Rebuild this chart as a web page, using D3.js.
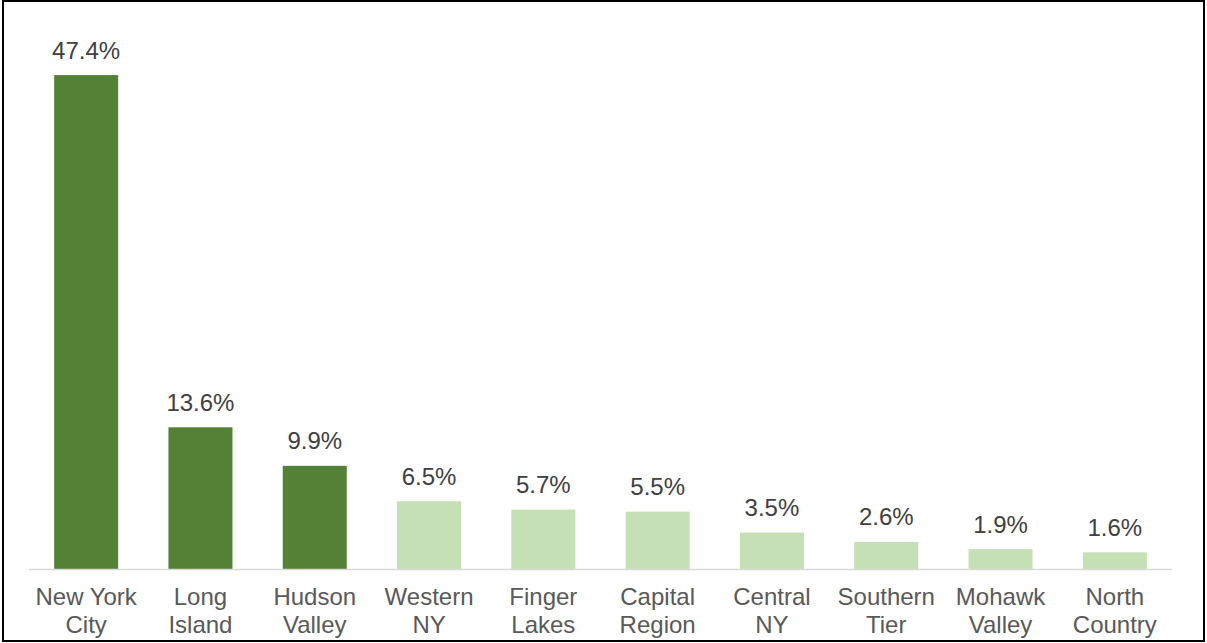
<!DOCTYPE html>
<html><head><meta charset="utf-8">
<script src="https://cdn.jsdelivr.net/npm/d3@7"></script>
<style>body{margin:0;background:#fff}svg{display:block}</style>
</head><body>
<script>
const categories = [["New York","City"],["Long","Island"],["Hudson","Valley"],["Western","NY"],["Finger","Lakes"],["Capital","Region"],["Central","NY"],["Southern","Tier"],["Mohawk","Valley"],["North","Country"]];
const values = [47.4,13.6,9.9,6.5,5.7,5.5,3.5,2.6,1.9,1.6];
const highlighted = [true,true,true,false,false,false,false,false,false,false];

const W=1207,H=643;
const svg=d3.select("body").append("svg").attr("width",W).attr("height",H);
svg.append("rect").attr("x",3).attr("y",1).attr("width",1201).attr("height",640)
  .attr("fill","#fff").attr("stroke","#000").attr("stroke-width",2);

const keys=categories.map(c=>c.join(" "));
const x=d3.scaleBand().domain(keys).range([29,1172]).paddingInner(0.44).paddingOuter(0.22);
const y=d3.scaleLinear().domain([0,50]).range([569,48]);

svg.selectAll(".bar").data(values).enter().append("rect")
  .attr("x",(d,i)=>x(keys[i])).attr("width",x.bandwidth())
  .attr("y",d=>y(d)).attr("height",d=>y(0)-y(d))
  .attr("fill",(d,i)=>highlighted[i]?"#538135":"#C5E0B4");

svg.append("line").attr("x1",29).attr("x2",1172).attr("y1",569.5).attr("y2",569.5)
  .attr("stroke","#d9d9d9").attr("stroke-width",1.5);

svg.selectAll(".val").data(values).enter().append("text")
  .attr("x",(d,i)=>x(keys[i])+x.bandwidth()/2).attr("y",d=>y(d)-16.5)
  .attr("text-anchor","middle").attr("font-family","Liberation Sans, Arial, sans-serif")
  .attr("font-size",24).attr("fill","#404040").text(d=>d.toFixed(1)+"%");

const lab=svg.selectAll(".cat").data(categories).enter().append("text")
  .attr("text-anchor","middle").attr("font-family","Liberation Sans, Arial, sans-serif")
  .attr("font-size",24).attr("fill","#595959");
lab.each(function(c,i){
  const t=d3.select(this);
  const cx=x(keys[i])+x.bandwidth()/2;
  c.forEach((s,j)=>t.append("tspan").attr("x",cx).attr("y",605+j*28).text(s));
});
</script>
</body></html>
